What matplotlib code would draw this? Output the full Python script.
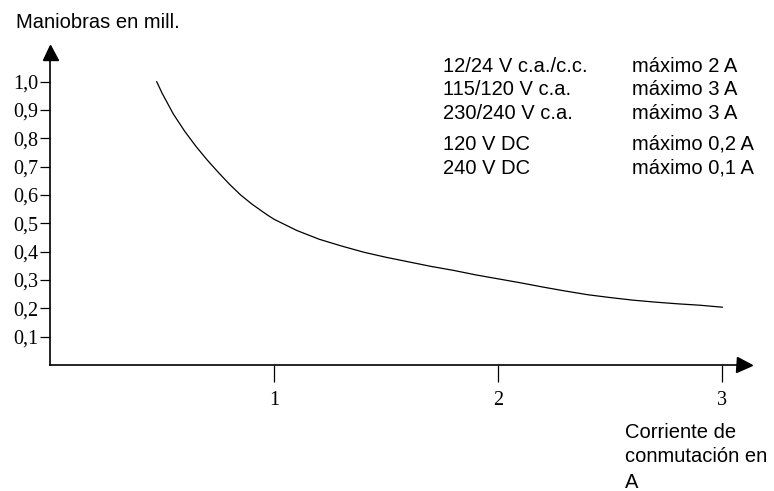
import matplotlib
matplotlib.use("Agg")
import matplotlib.pyplot as plt

# ---- data ----
current_a = [0.475, 0.50, 0.55, 0.60, 0.65, 0.70, 0.75, 0.80, 0.85, 0.90, 0.95, 0.97, 1.00,
             1.10, 1.20, 1.30, 1.40, 1.50, 1.60, 1.70, 1.80, 1.90, 2.00, 2.10, 2.20, 2.30,
             2.40, 2.50, 2.60, 2.70, 2.80, 2.90, 3.00]
operations_mill = [1.000, 0.958, 0.885, 0.825, 0.772, 0.724, 0.680, 0.638, 0.600, 0.568, 0.540,
                   0.529, 0.514, 0.475, 0.444, 0.420, 0.398, 0.380, 0.364, 0.348, 0.334, 0.318,
                   0.304, 0.290, 0.275, 0.261, 0.248, 0.238, 0.229, 0.222, 0.216, 0.211, 0.204]

x_ticks = [1, 2, 3]
x_tick_labels = ["1", "2", "3"]
y_ticks = [0.1, 0.2, 0.3, 0.4, 0.5, 0.6, 0.7, 0.8, 0.9, 1.0]
y_tick_labels = ["0,1", "0,2", "0,3", "0,4", "0,5", "0,6", "0,7", "0,8", "0,9", "1,0"]

y_title = "Maniobras en mill."
x_title = "Corriente de\nconmutación en\nA"
voltages = ["12/24 V c.a./c.c.", "115/120 V c.a.", "230/240 V c.a.", "120 V DC", "240 V DC"]
limits = ["máximo 2 A", "máximo 3 A", "máximo 3 A", "máximo 0,2 A", "máximo 0,1 A"]

# ---- layout (pixels) ----
W, H = 774, 491
x0_px, xunit_px = 50.3, 224.0
y0_px, yunit_px = 365.0, 283.3
xmax, ymax = 3.064, 1.079

fig = plt.figure(figsize=(W / 100, H / 100), dpi=100)
ax = fig.add_axes([x0_px / W, (H - y0_px) / H, xmax * xunit_px / W, ymax * yunit_px / H])
ax.set_xlim(0, xmax)
ax.set_ylim(0, ymax)

serif = "Liberation Serif"
sans = "Liberation Sans"

for s in ["top", "right"]:
    ax.spines[s].set_visible(False)
for s in ["left", "bottom"]:
    ax.spines[s].set_linewidth(1.2)
    ax.spines[s].set_color("black")

ax.set_xticks(x_ticks)
ax.set_xticklabels(x_tick_labels, fontfamily=serif, fontsize=14.5)
ax.set_yticks(y_ticks)
ax.set_yticklabels(y_tick_labels, fontfamily=serif, fontsize=14.5)
ax.tick_params(axis="x", direction="out", length=12, width=0.9, pad=7, colors="black")
ax.tick_params(axis="y", direction="out", length=7.5, width=0.9, pad=1, colors="black")

# arrow heads
ax.plot([xmax + 7.5 / xunit_px], [0], marker=">", markersize=10.8, color="black",
        clip_on=False, linestyle="none")
ax.plot([0], [ymax + 7.5 / yunit_px], marker="^", markersize=10.8, color="black",
        clip_on=False, linestyle="none")

# curve
ax.plot(current_a, operations_mill, color="black", linewidth=0.9, clip_on=False)

def ftext(xp, yp, s, **kw):
    fig.text(xp / W, 1 - yp / H, s, va="baseline", ha="left", fontfamily=sans,
             fontsize=14.5, color="black", **kw)

ftext(16, 28.3, y_title)

rows_y = [71.5, 95, 119, 150, 173.5]
for yy, v, l in zip(rows_y, voltages, limits):
    ftext(443.3, yy, v)
    ftext(631.7, yy, l)

for i, line in enumerate(x_title.split("\n")):
    ftext(625, 437.5 + 25 * i, line)

fig.savefig("out.png", dpi=100)
